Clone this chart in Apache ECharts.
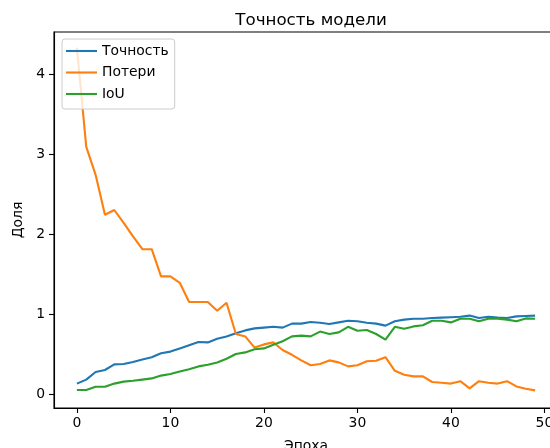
<!DOCTYPE html>
<html>
<head>
<meta charset="utf-8">
<script src="https://cdn.jsdelivr.net/npm/echarts@6/dist/echarts.min.js"></script>
<style>html,body{margin:0;padding:0;background:#fff}#c{width:550px;height:448px}</style>
</head>
<body>
<div id="c"></div>
<script>
const epochs = Array.from({length: 50}, (_, i) => i);
const accuracy = [0.13,0.18,0.275,0.30,0.37,0.375,0.40,0.43,0.46,0.51,
  0.53,0.57,0.61,0.65,0.645,0.69,0.72,0.76,0.795,0.82,
  0.83,0.84,0.83,0.88,0.88,0.90,0.89,0.875,0.895,0.915,
  0.91,0.89,0.88,0.855,0.91,0.93,0.94,0.94,0.95,0.955,
  0.96,0.965,0.98,0.95,0.965,0.955,0.95,0.97,0.975,0.98];
const loss = [4.33,3.09,2.74,2.24,2.30,2.14,1.97,1.81,1.81,1.47,
  1.47,1.39,1.15,1.15,1.15,1.04,1.14,0.75,0.72,0.58,
  0.62,0.645,0.55,0.49,0.42,0.36,0.375,0.42,0.395,0.345,
  0.36,0.41,0.415,0.46,0.29,0.24,0.22,0.22,0.15,0.14,
  0.13,0.16,0.07,0.16,0.14,0.13,0.16,0.095,0.066,0.045];
const iou = [0.05,0.05,0.09,0.09,0.13,0.155,0.165,0.18,0.195,0.23,
  0.25,0.28,0.31,0.345,0.365,0.395,0.44,0.50,0.52,0.56,
  0.57,0.615,0.66,0.72,0.73,0.72,0.78,0.75,0.77,0.84,
  0.79,0.80,0.75,0.68,0.84,0.815,0.845,0.86,0.915,0.915,
  0.895,0.94,0.94,0.91,0.94,0.94,0.93,0.91,0.945,0.94];
const xTicks = [0,10,20,30,40,50];
const yTicks = [0,1,2,3,4];
const seriesNames = ['Точность','Потери','IoU'];
const colors = ['#1f77b4','#ff7f0e','#2ca02c'];

const font = 'DejaVu Sans';
const chart = echarts.init(document.getElementById('c'), null, {renderer: 'canvas'});
const pairs = arr => epochs.map((e, i) => [e, arr[i]]);
chart.setOption({
  animation: false,
  backgroundColor: '#fff',
  color: colors,
  textStyle: {fontFamily: font},
  title: {
    text: 'Точность модели',
    left: 306, top: 7,
    textAlign: 'center',
    textStyle: {fontFamily: font, fontSize: 16.7, fontWeight: 'normal', color: '#000'}
  },
  legend: {
    orient: 'vertical',
    left: 62, top: 39,
    padding: [5, 6, 8, 4],
    icon: 'rect',
    itemWidth: 31, itemHeight: 2.1, itemGap: 7.5,
    itemTextGap: 13,
    backgroundColor: 'rgba(255,255,255,0.8)',
    borderColor: '#cccccc', borderWidth: 1, borderRadius: 3,
    textStyle: {fontFamily: font, fontSize: 13.9, color: '#000', lineHeight: 14},
    data: seriesNames
  },
  grid: {
    left: 54, top: 32, width: 504, height: 376,
    outerBoundsMode: 'none', containLabel: false,
    show: true, borderColor: '#000', borderWidth: 1.1, backgroundColor: 'transparent'
  },
  xAxis: {
    type: 'value', min: -2.45, max: 51.45,
    name: 'Эпоха', nameLocation: 'middle', nameGap: 31,
    nameTextStyle: {fontFamily: font, fontSize: 13.9, color: '#000'},
    axisLine: {show: true, onZero: false, lineStyle: {color: '#000', width: 1.1}},
    axisTick: {show: true, customValues: xTicks, length: 5, lineStyle: {color: '#000', width: 1.1}},
    axisLabel: {show: true, customValues: xTicks, margin: 8, fontFamily: font, fontSize: 13.9, color: '#000'},
    splitLine: {show: false}
  },
  yAxis: {
    type: 'value', min: -0.175, max: 4.525,
    name: 'Доля', nameLocation: 'middle', nameGap: 23, nameRotate: 90,
    nameTextStyle: {fontFamily: font, fontSize: 13.9, color: '#000'},
    axisLine: {show: true, onZero: false, lineStyle: {color: '#000', width: 1.1}},
    axisTick: {show: true, customValues: yTicks, length: 5, lineStyle: {color: '#000', width: 1.1}},
    axisLabel: {show: true, customValues: yTicks, margin: 9, fontFamily: font, fontSize: 13.9, color: '#000'},
    splitLine: {show: false}
  },
  series: [
    {name: seriesNames[0], type: 'line', data: pairs(accuracy), symbol: 'none', lineStyle: {width: 2.1}},
    {name: seriesNames[1], type: 'line', data: pairs(loss), symbol: 'none', lineStyle: {width: 2.1}},
    {name: seriesNames[2], type: 'line', data: pairs(iou), symbol: 'none', lineStyle: {width: 2.1}}
  ]
});
</script>
</body>
</html>
